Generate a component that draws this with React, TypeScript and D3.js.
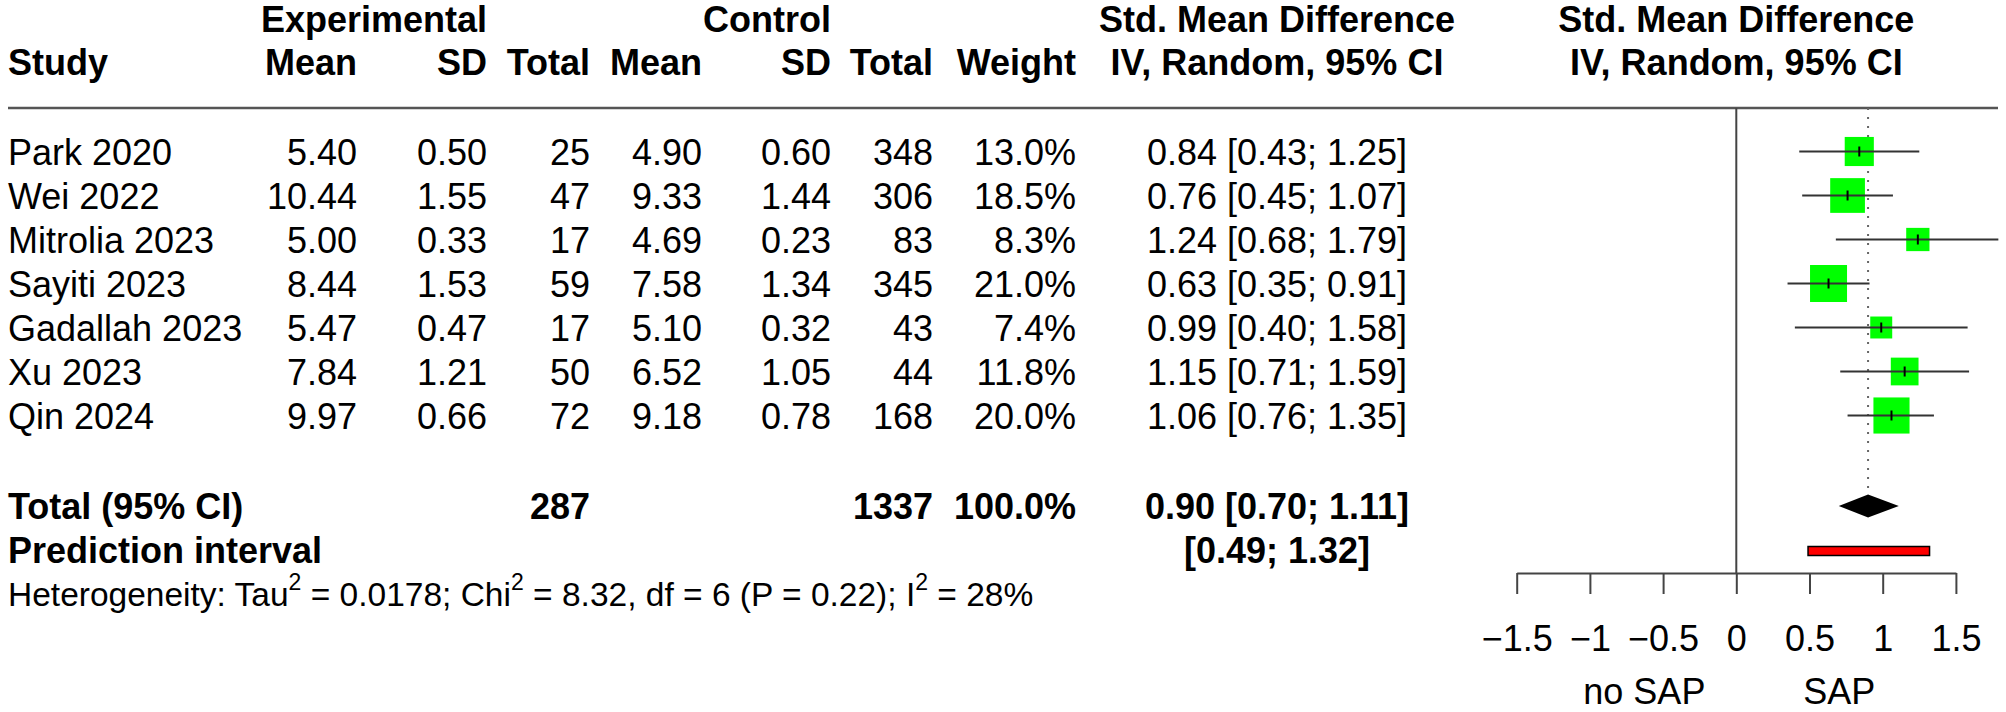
import { useEffect, useRef } from "react";
import * as d3 from "d3";

const studies = ["Park 2020", "Wei 2022", "Mitrolia 2023", "Sayiti 2023", "Gadallah 2023", "Xu 2023", "Qin 2024"];
const expMean = [5.40, 10.44, 5.00, 8.44, 5.47, 7.84, 9.97];
const expSD = [0.50, 1.55, 0.33, 1.53, 0.47, 1.21, 0.66];
const expTotal = [25, 47, 17, 59, 17, 50, 72];
const ctlMean = [4.90, 9.33, 4.69, 7.58, 5.10, 6.52, 9.18];
const ctlSD = [0.60, 1.44, 0.23, 1.34, 0.32, 1.05, 0.78];
const ctlTotal = [348, 306, 83, 345, 43, 44, 168];
const weights = [13.0, 18.5, 8.3, 21.0, 7.4, 11.8, 20.0];
const smd = [0.84, 0.76, 1.24, 0.63, 0.99, 1.15, 1.06];
const ciLower = [0.43, 0.45, 0.68, 0.35, 0.40, 0.71, 0.76];
const ciUpper = [1.25, 1.07, 1.79, 0.91, 1.58, 1.59, 1.35];

const pooled = [0.90, 0.70, 1.11]; // estimate, lower, upper
const predInterval = [0.49, 1.32];
const totals = [287, 1337];
const xTicks = [-1.5, -1, -0.5, 0, 0.5, 1, 1.5];
const hetero = { tau2: "0.0178", chi2: "8.32", df: 6, p: "0.22", i2: "28%" };
const labelLeft = "no SAP";
const labelRight = "SAP";

const width = 2006;
const height = 712;
const font = "'Liberation Sans', Arial, sans-serif";

// column right edges / centers of the table
const col = {
  study: 8,
  eMean: 357,
  eSD: 487,
  eTot: 590,
  cMean: 702,
  cSD: 831,
  cTot: 933,
  weight: 1076,
  ci: 1277,
};

const rowBase = (i: number) => 164.5 + 44 * i;
const totalBase = 519;
const predBase = 563;
const hetBase = 606;
const topLine = 108;
const axisY = 573;

const x = d3.scaleLinear().domain([-1.5, 1.5]).range([1516.7, 1955.9]);
const side = d3.scaleSqrt().domain([0, 21]).range([0, 37]);
const f2 = d3.format(".2f");
const f1 = d3.format(".1f");

const ciText = (e: number, l: number, u: number) => `${f2(e)} [${f2(l)}; ${f2(u)}]`;

export default function App() {
  const axisRef = useRef<SVGGElement | null>(null);

  useEffect(() => {
    const g = d3.select(axisRef.current);
    g.selectAll("*").remove();
    g.call(
      d3.axisBottom(x)
        .tickValues(xTicks)
        .tickSize(21)
        .tickSizeOuter(0)
        .tickPadding(31)
        .tickFormat(d3.format(""))
    );
    g.attr("font-size", 36).attr("font-family", font);
    g.select(".domain").attr("stroke", "#444").attr("stroke-width", 2);
    g.selectAll(".tick line").attr("stroke", "#444").attr("stroke-width", 2);
    g.selectAll(".tick text").attr("fill", "#000");
  }, []);

  const cy = (i: number) => rowBase(i) - 13;
  const dCy = totalBase - 13;
  const pCy = predBase - 12;

  return (
    <svg
      width={width}
      height={height}
      style={{ position: "absolute", left: 0, top: 0, background: "#fff" }}
      fontFamily={font}
      fontSize={36}
    >
      {/* header */}
      <g fontWeight="bold" fill="#000">
        <text x={col.eSD} y={32} textAnchor="end">Experimental</text>
        <text x={col.cSD} y={32} textAnchor="end">Control</text>
        <text x={col.ci} y={32} textAnchor="middle">Std. Mean Difference</text>
        <text x={x(0)} y={32} textAnchor="middle">Std. Mean Difference</text>
        <text x={col.study} y={75}>Study</text>
        <text x={col.eMean} y={75} textAnchor="end">Mean</text>
        <text x={col.eSD} y={75} textAnchor="end">SD</text>
        <text x={col.eTot} y={75} textAnchor="end">Total</text>
        <text x={col.cMean} y={75} textAnchor="end">Mean</text>
        <text x={col.cSD} y={75} textAnchor="end">SD</text>
        <text x={col.cTot} y={75} textAnchor="end">Total</text>
        <text x={col.weight} y={75} textAnchor="end">Weight</text>
        <text x={col.ci} y={75} textAnchor="middle">IV, Random, 95% CI</text>
        <text x={x(0)} y={75} textAnchor="middle">IV, Random, 95% CI</text>
      </g>
      <line x1={8} x2={1998} y1={topLine} y2={topLine} stroke="#555" strokeWidth={2.5} />

      {/* study rows */}
      {studies.map((s, i) => (
        <g key={s}>
          <text x={col.study} y={rowBase(i)}>{s}</text>
          <text x={col.eMean} y={rowBase(i)} textAnchor="end">{f2(expMean[i])}</text>
          <text x={col.eSD} y={rowBase(i)} textAnchor="end">{f2(expSD[i])}</text>
          <text x={col.eTot} y={rowBase(i)} textAnchor="end">{expTotal[i]}</text>
          <text x={col.cMean} y={rowBase(i)} textAnchor="end">{f2(ctlMean[i])}</text>
          <text x={col.cSD} y={rowBase(i)} textAnchor="end">{f2(ctlSD[i])}</text>
          <text x={col.cTot} y={rowBase(i)} textAnchor="end">{ctlTotal[i]}</text>
          <text x={col.weight} y={rowBase(i)} textAnchor="end">{f1(weights[i])}%</text>
          <text x={col.ci} y={rowBase(i)} textAnchor="middle">{ciText(smd[i], ciLower[i], ciUpper[i])}</text>
        </g>
      ))}

      {/* summary rows */}
      <g fontWeight="bold">
        <text x={col.study} y={totalBase}>Total (95% CI)</text>
        <text x={col.eTot} y={totalBase} textAnchor="end">{totals[0]}</text>
        <text x={col.cTot} y={totalBase} textAnchor="end">{totals[1]}</text>
        <text x={col.weight} y={totalBase} textAnchor="end">{f1(d3.sum(weights) > 99 ? 100 : d3.sum(weights))}%</text>
        <text x={col.ci} y={totalBase} textAnchor="middle">{ciText(pooled[0], pooled[1], pooled[2])}</text>
        <text x={col.study} y={predBase}>Prediction interval</text>
        <text x={col.ci} y={predBase} textAnchor="middle">[{f2(predInterval[0])}; {f2(predInterval[1])}]</text>
      </g>
      <text x={col.study} y={hetBase} fontSize={33.5}>
        Heterogeneity: Tau<tspan dy={-16} fontSize={23}>2</tspan>
        <tspan dy={16}> = {hetero.tau2}; Chi</tspan><tspan dy={-16} fontSize={23}>2</tspan>
        <tspan dy={16}> = {hetero.chi2}, df = {hetero.df} (P = {hetero.p}); I</tspan><tspan dy={-16} fontSize={23}>2</tspan>
        <tspan dy={16}> = {hetero.i2}</tspan>
      </text>

      {/* forest plot */}
      <line x1={x(0)} x2={x(0)} y1={topLine} y2={axisY} stroke="#444" strokeWidth={2} />
      <line x1={x(pooled[0])} x2={x(pooled[0])} y1={topLine} y2={dCy - 11.5}
        stroke="#666" strokeWidth={2} strokeDasharray="2 7" />
      {studies.map((s, i) => {
        const w = side(weights[i]);
        return (
          <g key={"m" + s}>
            <rect x={x(smd[i]) - w / 2} y={cy(i) - w / 2} width={w} height={w} fill="#00ff00" />
            <line x1={x(ciLower[i])} x2={x(ciUpper[i])} y1={cy(i)} y2={cy(i)} stroke="#333" strokeWidth={2} />
            <line x1={x(smd[i])} x2={x(smd[i])} y1={cy(i) - 5} y2={cy(i) + 5} stroke="#000" strokeWidth={2} />
          </g>
        );
      })}
      <polygon
        points={[
          [x(pooled[1]), dCy],
          [x(pooled[0]), dCy - 11.5],
          [x(pooled[2]), dCy],
          [x(pooled[0]), dCy + 11.5],
        ].map((p) => p.join(",")).join(" ")}
        fill="#000"
      />
      <rect x={x(predInterval[0])} y={pCy - 4.5} width={x(predInterval[1]) - x(predInterval[0])} height={9}
        fill="#ff0000" stroke="#000" strokeWidth={1.5} />

      <g ref={axisRef} transform={`translate(0,${axisY})`} />
      <text x={x(-0.628)} y={704} textAnchor="middle">{labelLeft}</text>
      <text x={x(0.703)} y={704} textAnchor="middle">{labelRight}</text>
    </svg>
  );
}
